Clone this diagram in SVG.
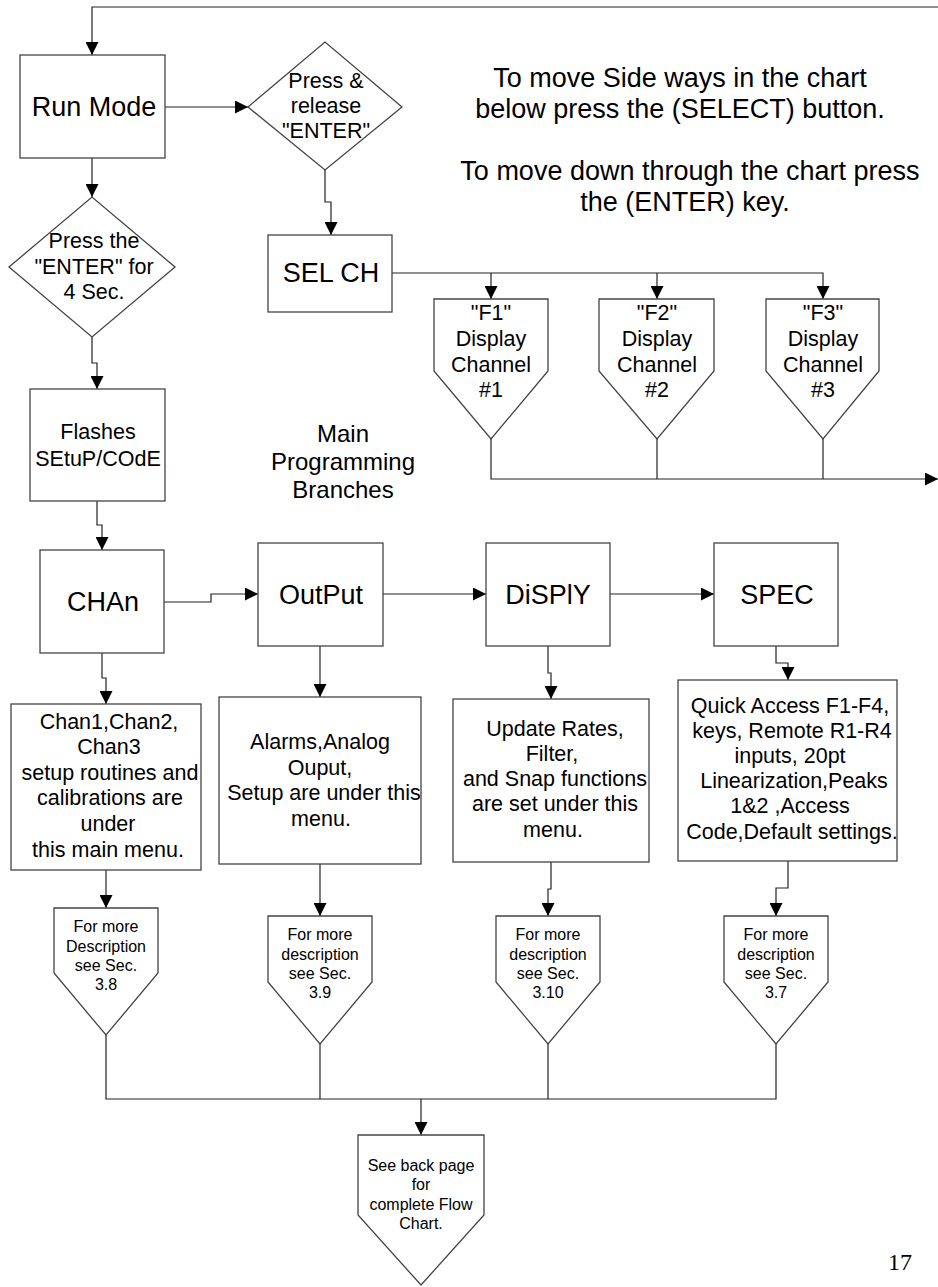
<svg xmlns="http://www.w3.org/2000/svg" width="938" height="1287" viewBox="0 0 938 1287">
<style>
  .shape { fill: #ffffff; stroke: #444444; stroke-width: 1.3; }
  .conn { fill: none; stroke: #222222; stroke-width: 1.2; }
  text { font-family: "Liberation Sans", Arial, sans-serif; fill: #000000; text-anchor: middle; }
  .big { font-size: 27px; }
  .mid { font-size: 21.5px; }
  .sm { font-size: 16px; }
  .note { font-size: 27px; }
  .mp { font-size: 24px; }
  .pg { font-family: "Liberation Serif", "Times New Roman", serif; font-size: 24px; text-anchor: start; }
</style>
<defs>
  <marker id="arr" viewBox="0 0 10 10" refX="10" refY="5" markerWidth="13" markerHeight="13" markerUnits="userSpaceOnUse" orient="auto">
    <path d="M0,0 L10,5 L0,10 z" fill="#000000"/>
  </marker>
</defs>
<rect width="938" height="1287" fill="#ffffff"/>

<g id="connectors">
  <path class="conn" d="M938,7 H92 V55" stroke="#666666" stroke-width="2" marker-end="url(#arr)"/>
  <path class="conn" d="M165,107 H248" marker-end="url(#arr)"/>
  <path class="conn" d="M325,170 V202 H331 V235" marker-end="url(#arr)"/>
  <path class="conn" d="M92,158 V197" marker-end="url(#arr)"/>
  <path class="conn" d="M92,337 V363 H97 V389" marker-end="url(#arr)"/>
  <path class="conn" d="M97,501 V525 H102 V550" marker-end="url(#arr)"/>
  <path class="conn" d="M164,602 H211 V594 H258" marker-end="url(#arr)"/>
  <path class="conn" d="M383,594 H486" marker-end="url(#arr)"/>
  <path class="conn" d="M610,594 H714" marker-end="url(#arr)"/>
  <path class="conn" d="M102,653 V678 H106 V704" marker-end="url(#arr)"/>
  <path class="conn" d="M320,646 V697" marker-end="url(#arr)"/>
  <path class="conn" d="M548,646 V673 H551 V699" marker-end="url(#arr)"/>
  <path class="conn" d="M776,646 V663 H788 V680" marker-end="url(#arr)"/>
  <path class="conn" d="M106,870 V908" marker-end="url(#arr)"/>
  <path class="conn" d="M320,864 V916" marker-end="url(#arr)"/>
  <path class="conn" d="M551,862 V889 H548 V916" marker-end="url(#arr)"/>
  <path class="conn" d="M788,861 V888 H776 V916" marker-end="url(#arr)"/>
  <path class="conn" d="M392,273 H823 V299" marker-end="url(#arr)"/>
  <path class="conn" d="M491,273 V299" marker-end="url(#arr)"/>
  <path class="conn" d="M657,273 V299" marker-end="url(#arr)"/>
  <path class="conn" d="M491,439 V479 H938" marker-end="url(#arr)"/>
  <path class="conn" d="M657,439 V479"/>
  <path class="conn" d="M823,439 V479"/>
  <path class="conn" d="M106,1035 V1099 H776 V1044"/>
  <path class="conn" d="M320,1044 V1099"/>
  <path class="conn" d="M548,1044 V1099"/>
  <path class="conn" d="M421,1099 V1135" stroke-width="2" marker-end="url(#arr)"/>
</g>

<g id="run-mode">
  <rect class="shape" x="20" y="55" width="145" height="103"/>
  <text class="big" x="94" y="116">Run Mode</text>
</g>
<g id="press-release">
  <polygon class="shape" points="248,107 325,42 402,107 325,170"/>
  <text class="mid" x="326" y="88">Press &amp;</text>
  <text class="mid" x="326" y="113">release</text>
  <text class="mid" x="326" y="138">"ENTER"</text>
</g>
<g id="sel-ch">
  <rect class="shape" x="268" y="235" width="124" height="77"/>
  <text class="big" x="331" y="282">SEL CH</text>
</g>
<g id="press-enter-4sec">
  <polygon class="shape" points="9,267 92,197 175,267 92,337"/>
  <text class="mid" x="94" y="248">Press the</text>
  <text class="mid" x="94" y="274">"ENTER" for</text>
  <text class="mid" x="94" y="299">4 Sec.</text>
</g>
<g id="flashes">
  <rect class="shape" x="30" y="389" width="135" height="112"/>
  <text class="mid" x="98" y="439">Flashes</text>
  <text class="mid" x="98" y="466">SEtuP/COdE</text>
</g>
<g id="chan">
  <rect class="shape" x="40" y="550" width="124" height="103"/>
  <text class="big" x="103" y="611">CHAn</text>
</g>
<g id="output">
  <rect class="shape" x="258" y="543" width="125" height="103"/>
  <text class="big" x="321" y="604">OutPut</text>
</g>
<g id="display">
  <rect class="shape" x="486" y="543" width="124" height="103"/>
  <text class="big" x="548" y="604">DiSPlY</text>
</g>
<g id="spec">
  <rect class="shape" x="714" y="543" width="124" height="103"/>
  <text class="big" x="777" y="604">SPEC</text>
</g>
<g id="chan-desc">
  <rect class="shape" x="11" y="704" width="190" height="166"/>
  <text class="mid" x="109" y="729">Chan1,Chan2,</text>
  <text class="mid" x="109" y="754">Chan3</text>
  <text class="mid" x="110" y="780">setup routines and</text>
  <text class="mid" x="110" y="805">calibrations are</text>
  <text class="mid" x="108" y="831">under</text>
  <text class="mid" x="108" y="857">this main menu.</text>
</g>
<g id="output-desc">
  <rect class="shape" x="219" y="697" width="202" height="167"/>
  <text class="mid" x="320" y="749">Alarms,Analog</text>
  <text class="mid" x="320" y="775">Ouput,</text>
  <text class="mid" x="324" y="800">Setup are under this</text>
  <text class="mid" x="321" y="826">menu.</text>
</g>
<g id="display-desc">
  <rect class="shape" x="453" y="699" width="196" height="163"/>
  <text class="mid" x="555" y="736">Update Rates,</text>
  <text class="mid" x="552" y="761">Filter,</text>
  <text class="mid" x="555" y="786">and Snap functions</text>
  <text class="mid" x="555" y="811">are set under this</text>
  <text class="mid" x="553" y="837">menu.</text>
</g>
<g id="spec-desc">
  <rect class="shape" x="678" y="680" width="219" height="181"/>
  <text class="mid" x="790" y="713">Quick Access F1-F4,</text>
  <text class="mid" x="792" y="738">keys, Remote R1-R4</text>
  <text class="mid" x="790" y="763">inputs, 20pt</text>
  <text class="mid" x="794" y="788">Linearization,Peaks</text>
  <text class="mid" x="790" y="813">1&amp;2 ,Access</text>
  <text class="mid" x="792" y="839">Code,Default settings.</text>
</g>
<g id="f1">
  <polygon class="shape" points="434,299 548,299 548,371 491,439 434,371"/>
  <text class="mid" x="491" y="320">"F1"</text>
  <text class="mid" x="491" y="346">Display</text>
  <text class="mid" x="491" y="372">Channel</text>
  <text class="mid" x="491" y="397">#1</text>
</g>
<g id="f2">
  <polygon class="shape" points="599,299 714,299 714,371 657,439 599,371"/>
  <text class="mid" x="657" y="320">"F2"</text>
  <text class="mid" x="657" y="346">Display</text>
  <text class="mid" x="657" y="372">Channel</text>
  <text class="mid" x="657" y="397">#2</text>
</g>
<g id="f3">
  <polygon class="shape" points="766,299 879,299 879,371 823,439 766,371"/>
  <text class="mid" x="823" y="320">"F3"</text>
  <text class="mid" x="823" y="346">Display</text>
  <text class="mid" x="823" y="372">Channel</text>
  <text class="mid" x="823" y="397">#3</text>
</g>
<g id="ref-3-8">
  <polygon class="shape" points="54,908 158,908 158,973 106,1035 54,973"/>
  <text class="sm" x="106" y="932">For more</text>
  <text class="sm" x="106" y="952">Description</text>
  <text class="sm" x="106" y="971">see Sec.</text>
  <text class="sm" x="106" y="990">3.8</text>
</g>
<g id="ref-3-9">
  <polygon class="shape" points="268,916 372,916 372,982 320,1044 268,982"/>
  <text class="sm" x="320" y="940">For more</text>
  <text class="sm" x="320" y="960">description</text>
  <text class="sm" x="320" y="979">see Sec.</text>
  <text class="sm" x="320" y="998">3.9</text>
</g>
<g id="ref-3-10">
  <polygon class="shape" points="496,916 600,916 600,982 548,1044 496,982"/>
  <text class="sm" x="548" y="940">For more</text>
  <text class="sm" x="548" y="960">description</text>
  <text class="sm" x="548" y="979">see Sec.</text>
  <text class="sm" x="548" y="998">3.10</text>
</g>
<g id="ref-3-7">
  <polygon class="shape" points="724,916 828,916 828,982 776,1044 724,982"/>
  <text class="sm" x="776" y="940">For more</text>
  <text class="sm" x="776" y="960">description</text>
  <text class="sm" x="776" y="979">see Sec.</text>
  <text class="sm" x="776" y="998">3.7</text>
</g>
<g id="back-page">
  <polygon class="shape" points="358,1135 484,1135 484,1215 421,1285 358,1215"/>
  <text class="sm" x="421" y="1171">See back page</text>
  <text class="sm" x="421" y="1190">for</text>
  <text class="sm" x="421" y="1210">complete Flow</text>
  <text class="sm" x="421" y="1229">Chart.</text>
</g>

<g id="instructions">
  <text class="note" x="680" y="87">To move Side ways in the chart</text>
  <text class="note" x="680" y="118">below press the (SELECT) button.</text>
  <text class="note" x="690" y="180">To move down through the chart press</text>
  <text class="note" x="685" y="211">the (ENTER) key.</text>
</g>
<g id="main-branches">
  <text class="mp" x="343" y="442">Main</text>
  <text class="mp" x="343" y="470">Programming</text>
  <text class="mp" x="343" y="498">Branches</text>
</g>
<text class="pg" x="888" y="1270">17</text>
</svg>
